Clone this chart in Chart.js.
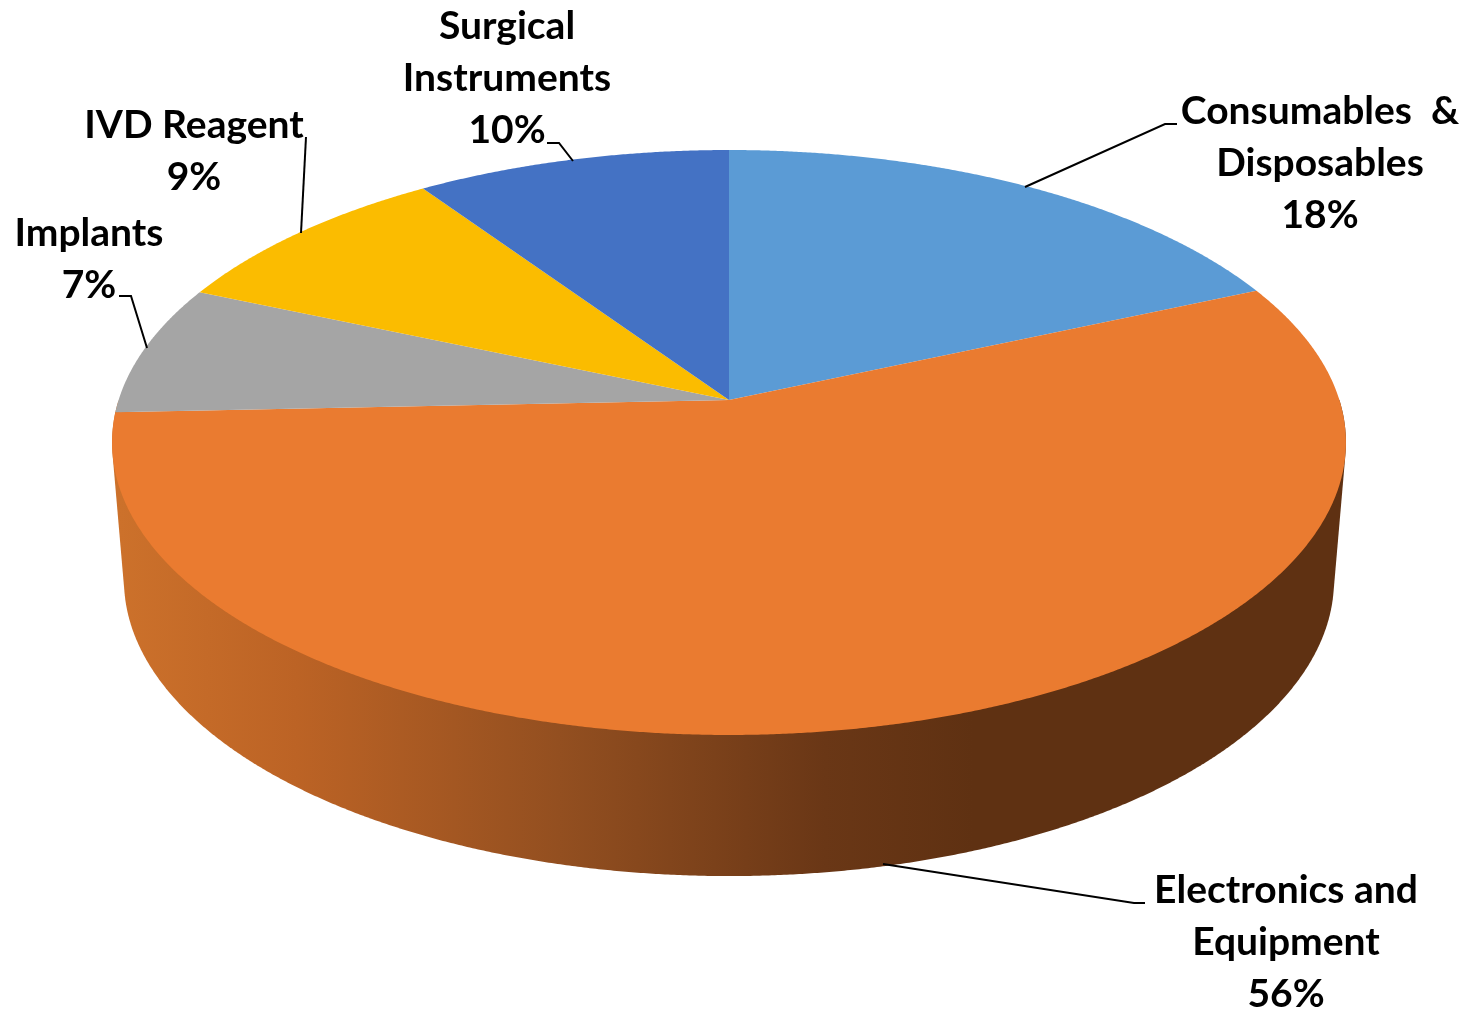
<!DOCTYPE html>
<html>
<head>
<meta charset="utf-8">
<title>Pie</title>
<script src="https://cdn.jsdelivr.net/npm/chart.js@4"></script>
<style>
  html, body { margin: 0; padding: 0; background: #fff; }
  canvas { display: block; }
</style>
</head>
<body>
<canvas id="chart" width="1461" height="1011"></canvas>
<script>
/* ==========================================================
   DATA
   ==========================================================*/
const categories = [
  "Consumables & Disposables",
  "Electronics and Equipment",
  "Implants",
  "IVD Reagent",
  "Surgical Instruments",
];
const shares = [18.4, 56, 7.2, 9, 9.5];
const percentLabels = ["18%", "56%", "7%", "9%", "10%"];
const labelLines = [
  ["Consumables  &", "Disposables"],
  ["Electronics and", "Equipment"],
  ["Implants"],
  ["IVD Reagent"],
  ["Surgical", "Instruments"],
];

/* ==========================================================
   LOOK AND LAYOUT
   ==========================================================*/
const sliceColors = ["#5B9BD5", "#EA7B30", "#A5A5A5", "#FBBC00", "#4472C4"];

// top face and bottom rim of the disc, in perspective
const topFace = { cx: 729, cy: 400, a: 610.4, b: 286.3, k: -0.1453 };
const bottomRim = { cx: 729, cy: 537, a: 598.6, b: 289.8, k: -0.1453 };

const labelFont = "bold 39px Lato";
const lineGap = 52;
// x centre and first baseline for each label
const labelAnchors = [
  { x: 1320, y: 124 },
  { x: 1286, y: 903 },
  { x: 89, y: 246 },
  { x: 194, y: 138 },
  { x: 507, y: 39 },
];
const leaderLines = [
  [[1025, 187], [1165, 124], [1177, 124]],
  [[883, 864], [1134, 903], [1145, 903]],
  [[119, 296], [131, 296], [147, 348]],
  [[306, 137], [301, 233]],
  [[547, 143], [559, 143], [573, 161]],
];

/* ==========================================================
   PROJECTION: chart.js arc angle -> point on the tilted disc
   ==========================================================*/
function project(face, angle) {
  const u = Math.cos(angle);
  const v = Math.sin(angle);
  const d = 1 + face.k * v;
  return [face.cx + (face.a * u) / d, face.cy + (face.b * v) / d];
}

function sideGradient(ctx) {
  const g = ctx.createLinearGradient(120, 0, 1000, 0);
  g.addColorStop(0, "#CC712B");
  g.addColorStop(0.2, "#BC6325");
  g.addColorStop(0.5, "#934F20");
  g.addColorStop(0.8, "#6A3716");
  g.addColorStop(0.97, "#5F3112");
  g.addColorStop(1, "#5F3112");
  return g;
}

// outline around both rims, the top face covers the upper part later
function convexHull(points) {
  const pts = points.slice().sort((p, q) => p[0] - q[0] || p[1] - q[1]);
  const cross = (o, p, q) =>
    (p[0] - o[0]) * (q[1] - o[1]) - (p[1] - o[1]) * (q[0] - o[0]);
  const half = (list) => {
    const out = [];
    list.forEach((p) => {
      while (out.length > 1 && cross(out[out.length - 2], out[out.length - 1], p) <= 0) out.pop();
      out.push(p);
    });
    out.pop();
    return out;
  };
  return half(pts).concat(half(pts.slice().reverse()));
}

/* ==========================================================
   PLUGIN: draw the arcs as a 3D disc, then labels
   ==========================================================*/
const tiltedPie = {
  id: "tiltedPie",
  beforeDatasetDraw() {
    return false; // flat arcs are replaced below
  },
  afterDatasetsDraw(chart) {
    const ctx = chart.ctx;
    const arcs = chart.getDatasetMeta(0).data;
    const step = Math.PI / 720;

    // side wall, only where an arc faces the viewer
    ctx.save();
    ctx.fillStyle = sideGradient(ctx);
    arcs.forEach((arc) => {
      const from = Math.max(arc.startAngle, 0);
      const to = Math.min(arc.endAngle, Math.PI);
      if (to <= from) return;
      const rim = [];
      for (let t = from; t < to; t += step) {
        rim.push(project(topFace, t), project(bottomRim, t));
      }
      rim.push(project(topFace, to), project(bottomRim, to));
      ctx.beginPath();
      convexHull(rim).forEach((p, i) => (i ? ctx.lineTo(p[0], p[1]) : ctx.moveTo(p[0], p[1])));
      ctx.closePath();
      ctx.fill();
    });

    // top face
    arcs.forEach((arc, i) => {
      ctx.beginPath();
      ctx.moveTo(topFace.cx, topFace.cy);
      for (let t = arc.startAngle; t < arc.endAngle; t += step) {
        const p = project(topFace, t);
        ctx.lineTo(p[0], p[1]);
      }
      const end = project(topFace, arc.endAngle);
      ctx.lineTo(end[0], end[1]);
      ctx.closePath();
      ctx.fillStyle = sliceColors[i];
      ctx.fill();
    });

    // leader lines
    ctx.strokeStyle = "#000";
    ctx.lineWidth = 2;
    leaderLines.forEach((pts) => {
      ctx.beginPath();
      pts.forEach((p, i) => (i ? ctx.lineTo(p[0], p[1]) : ctx.moveTo(p[0], p[1])));
      ctx.stroke();
    });

    // labels
    ctx.fillStyle = "#000";
    ctx.font = labelFont;
    ctx.textAlign = "center";
    ctx.textBaseline = "alphabetic";
    categories.forEach((_, i) => {
      const lines = labelLines[i].concat(percentLabels[i]);
      lines.forEach((text, n) => {
        ctx.fillText(text, labelAnchors[i].x, labelAnchors[i].y + n * lineGap);
      });
    });
    ctx.restore();
  },
};

new Chart(document.getElementById("chart"), {
  type: "pie",
  data: {
    labels: categories,
    datasets: [{ data: shares, backgroundColor: sliceColors, borderWidth: 0 }],
  },
  options: {
    responsive: false,
    animation: false,
    plugins: { legend: { display: false }, tooltip: { enabled: false } },
  },
  plugins: [tiltedPie],
});
</script>
</body>
</html>
